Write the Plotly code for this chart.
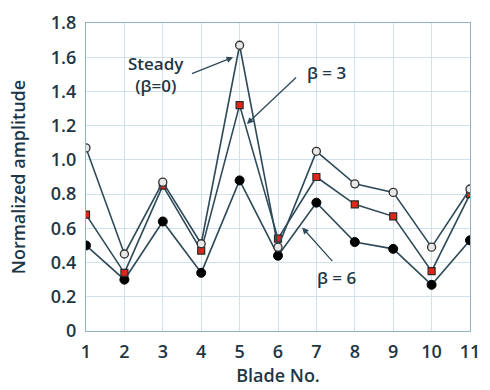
import plotly.graph_objects as go

blades = [1, 2, 3, 4, 5, 6, 7, 8, 9, 10, 11]
steady = [1.07, 0.45, 0.87, 0.51, 1.67, 0.49, 1.05, 0.86, 0.81, 0.49, 0.83]
beta3 = [0.68, 0.34, 0.85, 0.47, 1.32, 0.54, 0.90, 0.74, 0.67, 0.35, 0.80]
beta6 = [0.50, 0.30, 0.64, 0.34, 0.88, 0.44, 0.75, 0.52, 0.48, 0.27, 0.53]
y_ticks = [0, 0.2, 0.4, 0.6, 0.8, 1.0, 1.2, 1.4, 1.6, 1.8]
y_labels = ["0", "0.2", "0.4", "0.6", "0.8", "1.0", "1.2", "1.4", "1.6", "1.8"]

line_col = "#2e4a58"
text_col = "#1e3644"
grid_col = "#cfe1ec"
font = "Open Sans"

fig = go.Figure()
fig.add_trace(go.Scatter(x=blades, y=beta6, mode="lines+markers",
                         line=dict(color=line_col, width=1.6),
                         marker=dict(symbol="circle", size=9, color="#000000",
                                     line=dict(color="#000000", width=1))))
fig.add_trace(go.Scatter(x=blades, y=beta3, mode="lines+markers",
                         line=dict(color=line_col, width=1.6),
                         marker=dict(symbol="square", size=7, color="#e0251b",
                                     line=dict(color="#2a2a2a", width=1.2))))
fig.add_trace(go.Scatter(x=blades, y=steady, mode="lines+markers",
                         line=dict(color=line_col, width=1.6),
                         marker=dict(symbol="circle", size=8, color="#e8e8e8",
                                     line=dict(color="#333333", width=1.3))))

ann_font = dict(family=font, size=17, color=text_col, weight=600)
arrow = dict(showarrow=True, arrowhead=2, arrowsize=1, arrowwidth=1.3,
             arrowcolor=line_col, text="", xref="x", yref="y", axref="x", ayref="y")
fig.add_annotation(x=4.83, y=1.60, ax=3.72, ay=1.50, **arrow)
fig.add_annotation(x=2.83, y=1.50, xref="x", yref="y", showarrow=False,
                   text="Steady<br>(β=0)", font=ann_font, align="center")
fig.add_annotation(x=5.19, y=1.21, ax=6.51, ay=1.49, **arrow)
fig.add_annotation(x=7.26, y=1.51, xref="x", yref="y", showarrow=False,
                   text="β = 3", font=ann_font)
fig.add_annotation(x=6.63, y=0.605, ax=7.45, ay=0.40, **arrow)
fig.add_annotation(x=7.52, y=0.31, xref="x", yref="y", showarrow=False,
                   text="β = 6", font=ann_font)

tick_font = dict(family=font, size=18, color=text_col, weight=600)
title_font = dict(family=font, size=18, color=text_col, weight=600)
fig.update_layout(
    width=490, height=390,
    margin=dict(l=86, r=10, t=20, b=58),
    paper_bgcolor="#ffffff", plot_bgcolor="#ffffff",
    showlegend=False,
    font=dict(family=font, color=text_col, size=16),
)
fig.update_xaxes(range=[1, 11], tickvals=blades, ticktext=[str(b) for b in blades],
                 showgrid=True, gridcolor=grid_col, gridwidth=1,
                 showline=True, linecolor="#8fb4c8", linewidth=1.2, mirror=True,
                 zeroline=False, ticks="", ticklabelstandoff=4,
                 tickfont=tick_font,
                 title=dict(text="Blade No.", font=title_font, standoff=5))
fig.update_yaxes(range=[0, 1.8], tickvals=y_ticks, ticktext=y_labels,
                 showgrid=True, gridcolor=grid_col, gridwidth=1,
                 showline=True, linecolor="#8fb4c8", linewidth=1.2, mirror=True,
                 zeroline=False, ticks="", ticklabelstandoff=5,
                 tickfont=tick_font,
                 title=dict(text="Normalized amplitude", font=title_font, standoff=20))

fig.write_html("out.html")
